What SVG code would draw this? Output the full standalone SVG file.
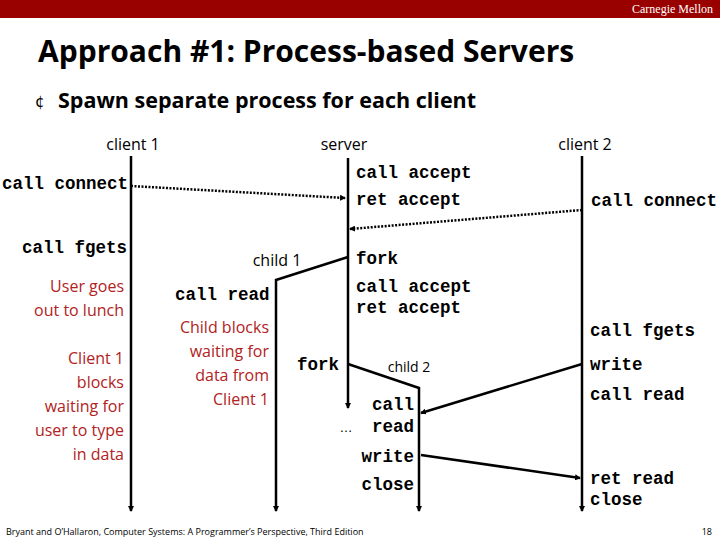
<svg xmlns="http://www.w3.org/2000/svg" width="720" height="540" viewBox="0 0 720 540">
<defs>
<marker id="ah" markerWidth="6" markerHeight="6" refX="5" refY="3" orient="auto" markerUnits="userSpaceOnUse"><path d="M0,0 L6,3 L0,6 z" fill="#000"/></marker>
<style>
.m{font-family:"Liberation Mono",monospace;font-weight:bold;font-size:17.5px;fill:#000}
.s{font-family:"Open Sans","Liberation Sans",sans-serif;font-size:16px;fill:#000}
.r{font-family:"Open Sans","Liberation Sans",sans-serif;font-size:16px;fill:#b22222}
.ln{stroke:#000;stroke-width:2.5;fill:none}
.dt{stroke:#000;stroke-width:2.5;fill:none;stroke-dasharray:2,1.5}
</style>
</defs>
<rect width="720" height="540" fill="#fff"/>
<rect width="720" height="18" fill="#990000"/>
<text x="713" y="13" text-anchor="end" font-family="Liberation Serif,serif" font-size="12" fill="#fff">Carnegie Mellon</text>
<text x="38" y="62" font-family="Open Sans,Liberation Sans,sans-serif" font-weight="bold" font-size="30" fill="#000">Approach #1: Process-based Servers</text>
<text x="35" y="107" font-family="DejaVu Sans,sans-serif" font-size="15" fill="#000">¢</text>
<text x="58" y="108" font-family="Open Sans,Liberation Sans,sans-serif" font-weight="bold" font-size="21.5" fill="#000">Spawn separate process for each client</text>
<g id="connectors">
<line class="ln" x1="131" y1="156" x2="131" y2="511" marker-end="url(#ah)"/>
<line class="ln" x1="348" y1="158" x2="348" y2="408" marker-end="url(#ah)"/>
<line class="ln" x1="582" y1="156" x2="582" y2="511" marker-end="url(#ah)"/>
<polyline class="ln" points="348,257 276,280 276,511" marker-end="url(#ah)"/>
<polyline class="ln" points="348,364 419,388 419,511" marker-end="url(#ah)"/>
<line class="dt" x1="131" y1="186" x2="345" y2="198" marker-end="url(#ah)"/>
<line class="dt" x1="582" y1="210" x2="350" y2="229" marker-end="url(#ah)"/>
<line class="ln" x1="582" y1="364" x2="421" y2="413" marker-end="url(#ah)"/>
<line class="ln" x1="421" y1="455" x2="580" y2="478" marker-end="url(#ah)"/>
</g>
<g id="client1">
<text class="s" x="133" y="150" text-anchor="middle">client 1</text>
<text class="m" x="2" y="189">call connect</text>
<text class="m" x="22" y="253">call fgets</text>
<text class="r" x="124" y="292" text-anchor="end">User goes</text>
<text class="r" x="124" y="316" text-anchor="end">out to lunch</text>
<text class="r" x="124" y="364" text-anchor="end">Client 1</text>
<text class="r" x="124" y="388" text-anchor="end">blocks</text>
<text class="r" x="124" y="412" text-anchor="end">waiting for</text>
<text class="r" x="124" y="436" text-anchor="end">user to type</text>
<text class="r" x="124" y="460" text-anchor="end">in data</text>
</g>
<g id="server">
<text class="s" x="344" y="150" text-anchor="middle">server</text>
<text class="m" x="356" y="178">call accept</text>
<text class="m" x="356" y="205">ret accept</text>
<text class="m" x="356" y="264">fork</text>
<text class="m" x="356" y="292">call accept</text>
<text class="m" x="356" y="313">ret accept</text>
<text class="m" x="297" y="370">fork</text>
<text x="346" y="432" font-family="Liberation Sans,sans-serif" font-size="13" text-anchor="middle">…</text>
</g>
<g id="child1">
<text class="s" x="277" y="266" text-anchor="middle" font-size="14">child 1</text>
<text class="m" x="175" y="300">call read</text>
<text class="r" x="269" y="333" text-anchor="end">Child blocks</text>
<text class="r" x="269" y="357" text-anchor="end">waiting for</text>
<text class="r" x="269" y="381" text-anchor="end">data from</text>
<text class="r" x="269" y="405" text-anchor="end">Client 1</text>
</g>
<g id="child2">
<text class="s" x="409" y="372" text-anchor="middle" style="font-size:14px">child 2</text>
<text class="m" x="414" y="410" text-anchor="end">call</text>
<text class="m" x="414" y="432" text-anchor="end">read</text>
<text class="m" x="414" y="462" text-anchor="end">write</text>
<text class="m" x="414" y="490" text-anchor="end">close</text>
</g>
<g id="client2">
<text class="s" x="585" y="150" text-anchor="middle">client 2</text>
<text class="m" x="591" y="206">call connect</text>
<text class="m" x="590" y="336">call fgets</text>
<text class="m" x="590" y="370">write</text>
<text class="m" x="590" y="400">call read</text>
<text class="m" x="590" y="484">ret read</text>
<text class="m" x="590" y="505">close</text>
</g>
<text x="6" y="535" font-family="Open Sans,Liberation Sans,sans-serif" font-size="9" fill="#000">Bryant and O’Hallaron, Computer Systems: A Programmer’s Perspective, Third Edition</text>
<text x="712" y="535" text-anchor="end" font-family="Open Sans,Liberation Sans,sans-serif" font-size="9" fill="#000">18</text>
</svg>
